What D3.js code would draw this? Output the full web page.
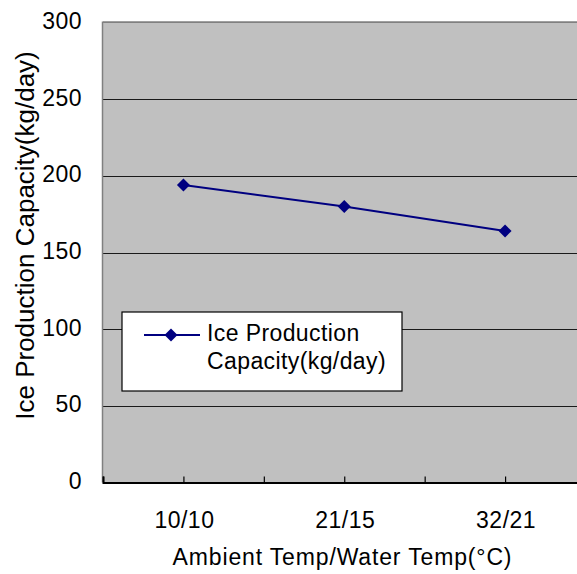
<!DOCTYPE html>
<html><head><meta charset="utf-8">
<script src="https://cdn.jsdelivr.net/npm/d3@7"></script>
<style>body{margin:0;background:#fff}svg{display:block}text{font-family:"Liberation Sans",Arial,sans-serif;fill:#000}</style>
</head><body>
<script>
const categories = ["10/10", "21/15", "32/21"];
const values = [194, 180, 164];
const seriesName = ["Ice Production", "Capacity(kg/day)"];
const yTicks = [0, 50, 100, 150, 200, 250, 300];
const xTitle = "Ambient Temp/Water Temp(°C)";
const yTitle = "Ice Production Capacity(kg/day)";

const W = 577, H = 574;
const L = 103, R = 585.5, T = 22.5, B = 482.5;
const svg = d3.select("body").append("svg").attr("width", W).attr("height", H);

const x = d3.scaleLinear().domain([-0.5, categories.length - 0.5]).range([L, R]);
const y = d3.scaleLinear().domain([0, 300]).range([B, T]);

// plot background
svg.append("rect").attr("x", L).attr("y", T).attr("width", R - L).attr("height", B - T).attr("fill", "#c0c0c0");

// gridlines
svg.append("g").selectAll("line").data(yTicks.filter(d => d > 0 && d < 300)).join("line")
  .attr("x1", L).attr("x2", R).attr("y1", d => Math.round(y(d)) + 0.5).attr("y2", d => Math.round(y(d)) + 0.5)
  .attr("stroke", "#1a1a1a").attr("stroke-width", 1.2);

// plot border (top & left gray)
svg.append("line").attr("x1", L).attr("x2", R).attr("y1", T - 1).attr("y2", T - 1).attr("stroke", "#a0a0a0").attr("stroke-width", 1);
svg.append("line").attr("x1", L).attr("x2", R).attr("y1", T).attr("y2", T).attr("stroke", "#808080").attr("stroke-width", 1);
svg.append("line").attr("x1", L - 0.5).attr("x2", L - 0.5).attr("y1", T - 1).attr("y2", B).attr("stroke", "#808080").attr("stroke-width", 1.5);

// y tick labels
svg.append("g").selectAll("text").data(yTicks).join("text")
  .attr("x", 82).attr("y", d => y(d) + 6.5).attr("text-anchor", "end")
  .style("font-size", "23px").style("letter-spacing", "0.5px").text(d => d);

// x axis
const xAxis = d3.axisBottom(x).tickValues(d3.range(-0.5, categories.length - 0.49, 0.5))
  .tickSize(-6).tickFormat("");
const gx = svg.append("g").attr("transform", `translate(0,${B})`).call(xAxis);
gx.select(".domain").attr("stroke", "#000").attr("stroke-width", 2);
gx.selectAll(".tick line").attr("stroke", "#000").attr("stroke-width", 1.2);

svg.append("g").selectAll("text").data(categories).join("text")
  .attr("x", (d, i) => x(i) + 1).attr("y", 527.5).attr("text-anchor", "middle")
  .style("font-size", "23px").style("letter-spacing", "0.5px").text(d => d);

// axis titles
svg.append("text").attr("x", 342.5).attr("y", 565).attr("text-anchor", "middle")
  .style("font-size", "23px").style("letter-spacing", "0.85px").text(xTitle);
svg.append("text").attr("transform", "translate(33.5,235.5) rotate(-90)").attr("text-anchor", "middle")
  .style("font-size", "26px").text(yTitle);

// series
const line = d3.line().x((d, i) => x(i)).y(d => y(d));
svg.append("path").datum(values).attr("d", line).attr("fill", "none").attr("stroke", "#000080").attr("stroke-width", 2);
svg.append("g").selectAll("path").data(values).join("path")
  .attr("transform", (d, i) => `translate(${x(i)},${y(d)})`)
  .attr("d", "M0,-6.5L6.5,0L0,6.5L-6.5,0Z").attr("fill", "#000080");

// legend
const lg = svg.append("g");
lg.append("rect").attr("x", 122).attr("y", 312).attr("width", 280).attr("height", 79)
  .attr("fill", "#fff").attr("stroke", "#000").attr("stroke-width", 1.2);
lg.append("line").attr("x1", 144).attr("x2", 200).attr("y1", 335).attr("y2", 335).attr("stroke", "#000080").attr("stroke-width", 2);
lg.append("path").attr("transform", "translate(171,335)").attr("d", "M0,-6.5L6.5,0L0,6.5L-6.5,0Z").attr("fill", "#000080");
lg.selectAll("text").data(seriesName).join("text")
  .attr("x", 207).attr("y", (d, i) => 341 + i * 27.5)
  .style("font-size", "23px").style("letter-spacing", "0.4px").text(d => d);
</script>
</body></html>
